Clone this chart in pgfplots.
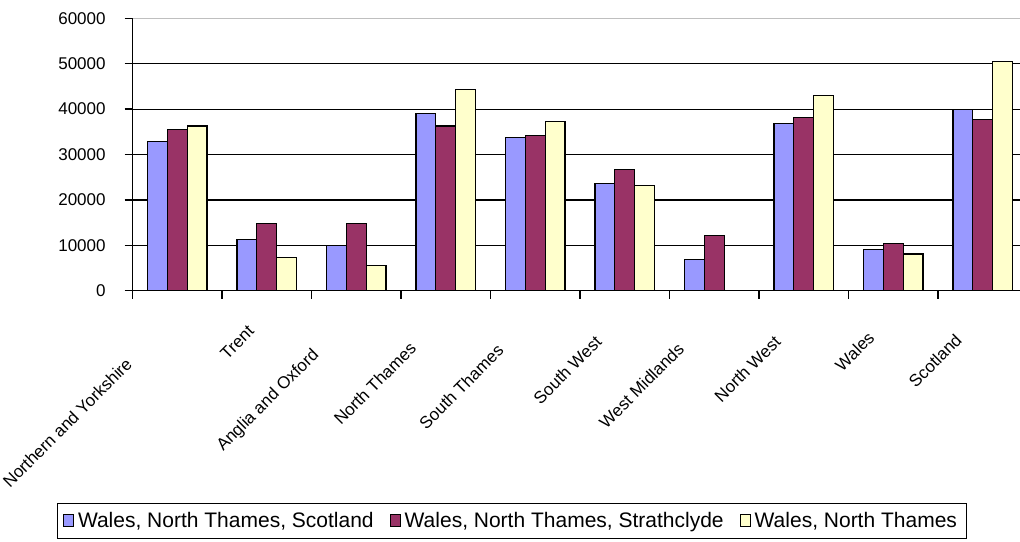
\documentclass[border=0pt]{standalone}
\usepackage{pgfplots}
\pgfplotsset{compat=1.18}
\usepackage{fontspec}
\setmainfont{Liberation Sans}
\definecolor{serA}{HTML}{9999FF}
\definecolor{serB}{HTML}{993366}
\definecolor{serC}{HTML}{FFFFCC}
\begin{document}
\begin{tikzpicture}
\path[use as bounding box] (0,0) rectangle (510pt,270.5pt);
\begin{axis}[
  at={(66.25pt,125.15pt)}, anchor=south west,
  scale only axis, width=443.75pt, height=136.2pt,
  ybar=0pt, bar width=9.9pt,
  xmin=-0.5, xmax=9.416, ymin=0, ymax=60000,
  ytick={0,10000,...,60000},
  scaled y ticks=false,
  /pgf/number format/assume math mode=true,
  yticklabel style={/pgf/number format/1000 sep={}},
  xtick={0,...,9},
  xticklabels={
    {Northern and Yorkshire\hspace*{34pt}},
    {Trent\hspace*{11pt}},
    {Anglia and Oxford\hspace*{28pt}},
    {North Thames\hspace*{23pt}},
    {South Thames\hspace*{24.5pt}},
    {South West\hspace*{18.5pt}},
    {West Midlands\hspace*{23.5pt}},
    {North West\hspace*{18.5pt}},
    {Wales\hspace*{15.5pt}},
    {Scotland\hspace*{17pt}}},
  major x tick style={draw=none},
  minor xtick={-0.5,0.5,...,8.5},
  tick align=outside,
  major tick length=4pt, minor tick length=4pt,
  axis x line*=bottom, axis y line*=left,
  ymajorgrids, grid style={black, line width=0.6pt},
  axis line style={black, line width=0.7pt},
  tick style={black, line width=0.7pt},
  ticklabel style={font=\fontsize{8.5}{10}\selectfont},
  yticklabel style={inner sep=0pt, xshift=-9.25pt},
  xticklabel style={rotate=45, anchor=east, inner sep=0pt},
  xticklabel shift=7pt,
  legend columns=3,
  legend style={at={(0.4276,-0.8455)}, anchor=center, draw=black,
    line width=0.5pt, inner xsep=3pt, inner ysep=2pt,
    font=\fontsize{10.5}{12}\selectfont,
    /tikz/every even column/.append style={column sep=6pt}},
  legend image code/.code={\draw[#1, line width=0.5pt] (0pt,-2.5pt) rectangle (5pt,3.5pt);},
  every axis plot/.append style={draw=black, line width=0.6pt},
]
% Wales, North Thames, Scotland
\addplot[fill=serA] coordinates {
  (0,32800) (1,11300) (2,10000) (3,39000) (4,33700)
  (5,23600) (6,6900) (7,36800) (8,9000) (9,39900)};
\addlegendentry{Wales, North Thames, Scotland}
% Wales, North Thames, Strathclyde
\addplot[fill=serB] coordinates {
  (0,35500) (1,14800) (2,14800) (3,36300) (4,34100)
  (5,26700) (6,12100) (7,38100) (8,10400) (9,37700)};
\addlegendentry{Wales, North Thames, Strathclyde}
% Wales, North Thames (no value for West Midlands)
\addplot[fill=serC] coordinates {
  (0,36300) (1,7300) (2,5500) (3,44300) (4,37200)
  (5,23100) (7,43000) (8,8100) (9,50400)};
\addlegendentry{Wales, North Thames}
% plot-area border along the top
\draw[black!25, line width=0.6pt] (rel axis cs:0,1) -- (rel axis cs:1,1);
\end{axis}
\end{tikzpicture}
\end{document}
